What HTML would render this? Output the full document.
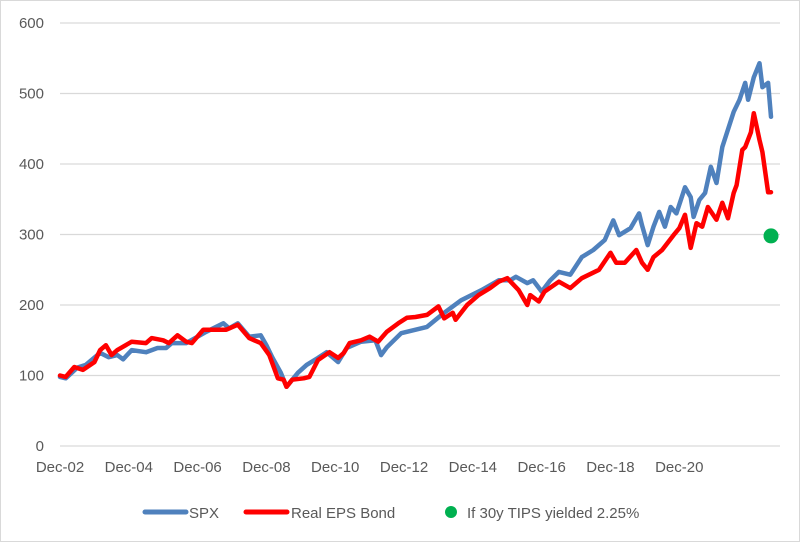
<!DOCTYPE html>
<html><head><meta charset="utf-8"><style>
html,body{margin:0;padding:0;background:#fff}
svg{display:block;font-family:"Liberation Sans",sans-serif}
</style></head><body>
<svg id="chart" width="800" height="543" viewBox="0 0 800 543">
<rect x="0.5" y="0.5" width="799" height="541" fill="#fff" stroke="#d9d9d9"/>
<g id="grid"></g>
<g id="yticks"></g>
<g id="xticks"></g>
<g id="series"></g>
<g>
<g><line x1="145" y1="512" x2="186" y2="512" stroke="#4f81bd" stroke-width="5" stroke-linecap="round"/><text x="189" y="518" font-size="15" fill="#595959">SPX</text></g>
<g><line x1="246" y1="512" x2="287" y2="512" stroke="#ff0000" stroke-width="5" stroke-linecap="round"/><text x="291" y="518" font-size="15" fill="#595959">Real EPS Bond</text></g>
<g><circle cx="451" cy="512" r="6" fill="#00b050"/><text x="467" y="518" font-size="15" fill="#595959">If 30y TIPS yielded 2.25%</text></g>
</g>
</svg>
<script>
const yTicks = [0,100,200,300,400,500,600];
const xTickLabels = ["Dec-02","Dec-04","Dec-06","Dec-08","Dec-10","Dec-12","Dec-14","Dec-16","Dec-18","Dec-20"];
const xTickMonths = [0,24,48,72,96,120,144,168,192,216];
const spxMonths = [0,2,6,9,14,17,20,22,25,30,34,37,39,44,48,51,57,59,62,66,70,72,74,77,79,83,86,90,93,97,100,105,110,112,114,119,128,134,140,147,153,157,159,163,165,168,171,174,178,182,186,190,193,195,199,202,203,205,207,209,211,213,215,218,220,221,223,225,227,229,231,235,237,239,240,242,244,245,247,248];
const spxValues = [98,96,111,115,132,126,129,123,136,133,139,139,146,146,155,162,174,167,174,155,157,143,126,104,84,104,115,125,133,119,139,148,150,129,140,160,169,189,207,221,235,235,240,231,235,219,235,247,243,268,278,292,320,299,309,330,313,285,311,332,311,339,330,367,353,325,349,359,396,373,424,474,491,515,491,523,543,509,515,467];
const bondMonths = [0,2,5,8,12,14,16,18,20,25,30,32,36,38,41,44,46,50,53,58,62,66,70,73,76,78,79,81,85,87,90,94,97,99,101,105,108,111,114,118,121,124,128,132,134,137,138,142,146,150,153,156,160,163,164,167,169,174,178,182,188,192,194,197,201,203,205,207,210,214,216,218,220,222,224,226,229,231,233,235,236,238,239,241,242,244,245,247,248];
const bondValues = [100,98,112,108,119,136,143,129,136,148,146,153,150,146,157,148,146,165,165,165,172,153,146,129,96,94,84,94,96,98,122,133,125,132,146,150,155,148,162,174,182,183,186,198,181,189,179,200,214,224,233,238,221,200,214,205,219,233,224,238,250,274,260,260,278,260,250,268,278,299,309,328,281,316,311,339,321,345,323,359,370,420,424,445,472,434,417,360,360];
const tipsMonth = 248;
const tipsValue = 298;

const NS = "http://www.w3.org/2000/svg";
const x = m => 60 + m * 2.867;
const y = v => 446 - v * 0.705;
function mk(tag, attrs, parent){const e=document.createElementNS(NS,tag);for(const k in attrs)e.setAttribute(k,attrs[k]);parent.appendChild(e);return e;}
const grid=document.getElementById('grid'), yt=document.getElementById('yticks'), xt=document.getElementById('xticks'), ser=document.getElementById('series');
yTicks.forEach(v=>{
  const l=mk('line',{x1:60,x2:780,y1:y(v),y2:y(v),stroke:'#d9d9d9','stroke-width':1.3},grid);
  
  
  const t=mk('text',{x:44,y:y(v)+5,'text-anchor':'end','font-size':15,fill:'#595959'},yt);
  t.textContent=v;
  
  
});
xTickLabels.forEach((s,i)=>{
  const t=mk('text',{x:x(xTickMonths[i]),y:472,'text-anchor':'middle','font-size':15,fill:'#595959'},xt);
  t.textContent=s;
  
  
});
function path(ms,vs,color,name){
  const d=ms.map((m,i)=>(i?'L':'M')+x(m).toFixed(1)+','+y(vs[i]).toFixed(1)).join('');
  const p=mk('path',{d:d,fill:'none',stroke:color,'stroke-width':4.5,'stroke-linejoin':'round','stroke-linecap':'round'},ser);
  
  
}
path(spxMonths,spxValues,'#4f81bd','spx-line');
path(bondMonths,bondValues,'#ff0000','real-eps-bond-line');
const c=mk('circle',{cx:x(tipsMonth),cy:y(tipsValue),r:7.5,fill:'#00b050'},ser);


</script>
</body></html>
